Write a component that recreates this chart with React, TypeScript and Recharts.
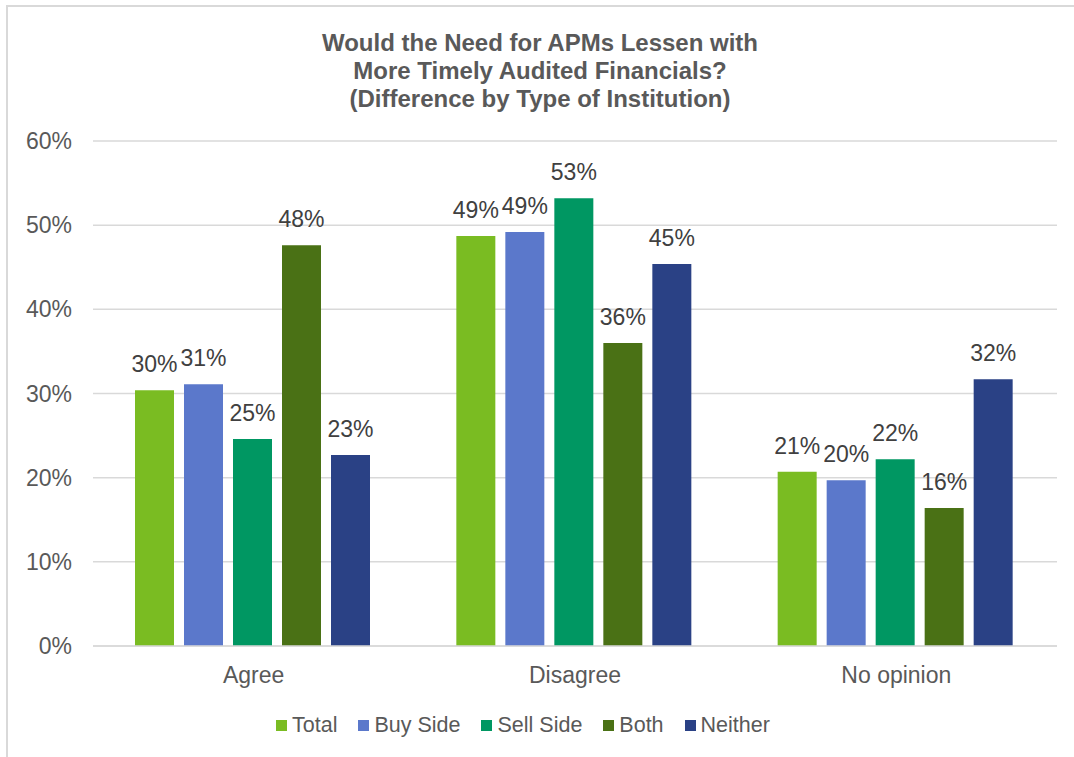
import React from 'react';
import { BarChart, Bar, XAxis, YAxis, CartesianGrid, Legend, LabelList } from 'recharts';

const categories = ['Agree', 'Disagree', 'No opinion'];
const total = [30.4, 48.7, 20.7];
const buySide = [31.1, 49.2, 19.7];
const sellSide = [24.6, 53.2, 22.2];
const both = [47.6, 36.0, 16.4];
const neither = [22.7, 45.4, 31.7];
const yTicks = [0, 10, 20, 30, 40, 50, 60];

const series = [
  { key: 'total', name: 'Total', color: '#7abc22' },
  { key: 'buy', name: 'Buy Side', color: '#5b78cb' },
  { key: 'sell', name: 'Sell Side', color: '#009762' },
  { key: 'both', name: 'Both', color: '#4a7115' },
  { key: 'neither', name: 'Neither', color: '#2a4185' },
];

const data = categories.map((c, i) => ({
  name: c,
  total: total[i],
  buy: buySide[i],
  sell: sellSide[i],
  both: both[i],
  neither: neither[i],
}));

const font = '"Liberation Sans", Arial, sans-serif';

const LegendContent = () => (
  <div style={{ display: 'flex', alignItems: 'center', paddingLeft: 276, height: 24 }}>
    {series.map((s) => (
      <div key={s.key} style={{ display: 'flex', alignItems: 'center', marginRight: 21 }}>
        <span style={{ width: 11, height: 11, background: s.color, marginRight: 5, display: 'inline-block' }} />
        <span style={{ fontSize: 21.5, color: '#595959', fontFamily: font }}>{s.name}</span>
      </div>
    ))}
  </div>
);

export default function App() {
  return (
    <div style={{ position: 'absolute', left: 0, top: 0, width: 1074, height: 757, background: '#fff', fontFamily: font }}>
      <div
        style={{
          position: 'absolute',
          left: 6,
          top: 5,
          width: 1080,
          height: 760,
          borderTop: '2px solid #d9d9d9',
          borderLeft: '2px solid #d9d9d9',
        }}
      />
      <div
        style={{
          position: 'absolute',
          left: 0,
          top: 29,
          width: 1080,
          textAlign: 'center',
          fontSize: 24,
          lineHeight: '28px',
          fontWeight: 'bold',
          color: '#595959',
        }}
      >
        Would the Need for APMs Lessen with
        <br />
        More Timely Audited Financials?
        <br />
        (Difference by Type of Institution)
      </div>
      <div style={{ position: 'absolute', left: 0, top: 0 }}>
        <BarChart
          width={1074}
          height={757}
          data={data}
          margin={{ top: 141, right: 17, left: 0, bottom: 57 }}
          barCategoryGap={42}
          barGap={10}
        >
          <CartesianGrid vertical={false} stroke="#d9d9d9" strokeWidth={1.5} />
          <XAxis
            dataKey="name"
            axisLine={{ stroke: '#d9d9d9', strokeWidth: 1.5 }}
            tickLine={false}
            tickMargin={15}
            tick={{ fontSize: 23, fill: '#595959', fontFamily: font }}
          />
          <YAxis
            width={93}
            domain={[0, 60]}
            ticks={yTicks}
            axisLine={false}
            tickLine={false}
            tickMargin={15}
            tickFormatter={(v: number) => `${v}%`}
            tick={{ fontSize: 23, fill: '#595959', fontFamily: font }}
          />
          <Legend verticalAlign="bottom" content={<LegendContent />} wrapperStyle={{ top: 713, left: 0, width: 1074, height: 24 }} />
          {series.map((s) => (
            <Bar key={s.key} dataKey={s.key} name={s.name} fill={s.color} isAnimationActive={false}>
              <LabelList
                dataKey={s.key}
                position="top"
                offset={18}
                formatter={(v: number) => `${Math.round(v)}%`}
                style={{ fontSize: 23, fill: '#404040', fontFamily: font }}
              />
            </Bar>
          ))}
        </BarChart>
      </div>
    </div>
  );
}
